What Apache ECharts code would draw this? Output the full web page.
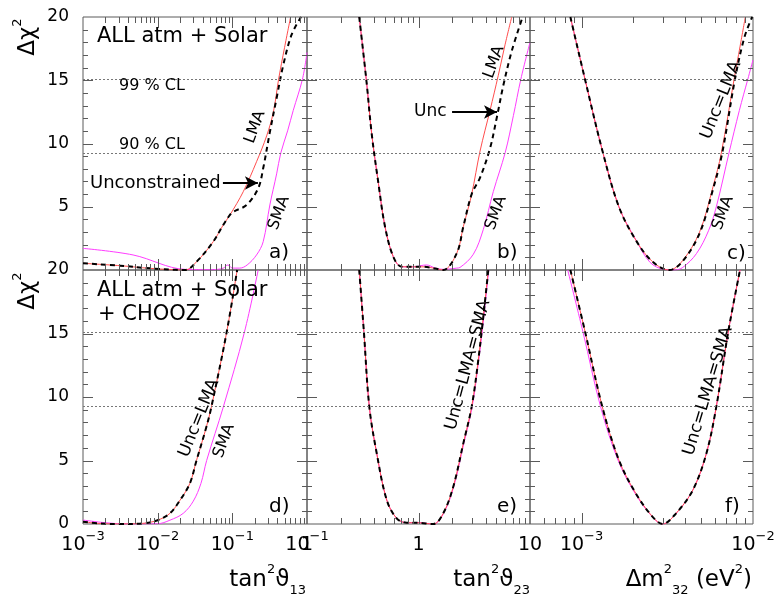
<!DOCTYPE html>
<html>
<head>
<meta charset="utf-8">
<title>Delta chi2 profiles</title>
<script src="https://cdn.jsdelivr.net/npm/echarts@6/dist/echarts.min.js"></script>
<style>
  html, body { margin: 0; background: #fff; }
  #chart { width: 781px; height: 602px; }
</style>
</head>
<body>
<div id="chart"></div>
<script>
// confidence levels (dotted lines)
const CL_LEVELS = [9.24, 15.09];

// tick labels
const X_LABELS_13 = [0.001, 0.01, 0.1, 1];
const X_LABELS_23 = [0.1, 1, 10];
const X_LABELS_DM = [0.001, 0.01];
const Y_LABELS = [0, 5, 10, 15, 20];

// a) tan^2 theta13, ALL atm + Solar
const aLma = [[0.001,0.53],[0.00316,0.34],[0.00794,0.13],[0.0232,0],[0.0333,0.66],[0.0555,2.24],[0.0755,3.56],[0.0929,4.35],[0.14,6.19],[0.211,8.56],[0.288,10.6],[0.355,12.5],[0.417,15.09],[0.501,17.6],[0.603,20]];
const aSma = [[0.001,1.71],[0.00468,1.19],[0.0232,0.05],[0.0501,0.02],[0.0631,0.05],[0.0759,0.15],[0.0871,0.4],[0.1,0.15],[0.126,0.15],[0.158,0.4],[0.211,1.19],[0.259,2.24],[0.318,5.14],[0.392,7.6],[0.445,9.24],[0.55,11.0],[0.653,12.6],[0.87,15.09],[1,17.2]];
const aUnc = [[0.001,0.53],[0.00316,0.34],[0.00794,0.13],[0.0232,0],[0.0333,0.66],[0.0555,2.24],[0.0755,3.56],[0.0929,4.35],[0.103,4.6],[0.155,5.14],[0.222,6.46],[0.259,8.04],[0.318,10.9],[0.392,13.6],[0.481,16.2],[0.622,18.6],[0.832,20]];
const aArrow = [[0.0748,6.88],[0.22,6.88]];

// b) tan^2 theta23, ALL atm + Solar
const bLma = [[0.294,20],[0.343,14.76],[0.38,10.8],[0.437,6.85],[0.501,3.42],[0.594,1.05],[0.706,0.26],[0.891,0.25],[1.122,0.25],[1.413,0.12],[1.667,0],[2.203,1.32],[2.523,3.42],[3.0,6.0],[3.565,9.4],[4.375,12.6],[5.2,15.4],[5.97,17.8],[6.855,20]];
const bSma = [[0.294,20],[0.343,14.76],[0.38,10.8],[0.437,6.85],[0.501,3.42],[0.594,1.05],[0.706,0.26],[0.891,0.25],[1.183,0.4],[1.413,0.15],[1.667,0.05],[2.203,0.15],[2.355,0.2],[3.105,1.25],[3.811,3.2],[4.688,6.2],[6.0,9.3],[7.096,12.2],[8.28,15.09],[10,18.0]];
const bUnc = [[0.294,20],[0.343,14.76],[0.38,10.8],[0.437,6.85],[0.501,3.42],[0.594,1.05],[0.706,0.26],[0.891,0.25],[1.122,0.25],[1.413,0.12],[1.667,0],[2.203,1.32],[2.523,3.42],[3.0,6.0],[3.565,7.3],[4.375,9.6],[5.023,12.0],[5.768,14.6],[6.855,17.3],[8.433,19.8]];
const bArrow = [[2.0,12.49],[5.06,12.49]];

// c) dm^2_32 (eV^2), ALL atm + Solar
const cLma = [[0.00086,20],[0.00105,15.0],[0.00133,9.3],[0.00165,5.0],[0.00207,2.37],[0.00259,0.66],[0.00325,0],[0.00389,0.75],[0.00488,3.0],[0.00585,6.6],[0.00653,9.24],[0.00776,15.09],[0.00841,17.7],[0.00902,20]];
const cSma = [[0.00086,20],[0.00105,15.0],[0.00133,9.3],[0.00165,5.0],[0.00207,2.4],[0.00251,0.6],[0.00302,0.05],[0.00347,0],[0.00389,0.2],[0.00468,1.3],[0.0055,3.1],[0.00611,5.0],[0.00724,9.24],[0.00832,12.6],[0.00933,15.09],[0.01,16.6]];
const cUnc = [[0.00086,20],[0.00105,15.0],[0.00133,9.3],[0.00165,5.0],[0.00207,2.37],[0.00259,0.66],[0.00325,0],[0.00389,0.7],[0.00488,2.9],[0.00585,6.4],[0.00661,9.24],[0.00785,15.09],[0.00891,18.4],[0.00989,20]];

// d) tan^2 theta13, ALL atm + Solar + CHOOZ
const dLma = [[0.001,0.18],[0.00158,0.05],[0.00316,0],[0.00631,0.05],[0.01,0.3],[0.0146,0.84],[0.02,1.89],[0.027,3.2],[0.0331,5.0],[0.0447,7.6],[0.0525,9.24],[0.0839,15.09],[0.116,20]];
const dSma = [[0.001,0.31],[0.002,0.1],[0.004,0],[0.01,0.02],[0.0146,0.3],[0.022,0.84],[0.03,1.8],[0.038,3.2],[0.0453,5.0],[0.0759,9.24],[0.145,15.09],[0.222,20]];
const dUnc = [[0.001,0.18],[0.00158,0.05],[0.00316,0],[0.00631,0.05],[0.01,0.3],[0.0146,0.84],[0.02,1.89],[0.027,3.2],[0.0331,5.0],[0.0447,7.6],[0.0525,9.24],[0.0839,15.09],[0.116,20]];

// e) tan^2 theta23, ALL atm + Solar + CHOOZ
const eLma = [[0.294,20],[0.324,15.09],[0.362,9.24],[0.422,5.57],[0.519,1.89],[0.637,0.45],[0.783,0.1],[0.964,0.1],[1.358,0],[1.667,0.84],[2.051,2.94],[2.523,6.35],[3.0,9.24],[3.436,12.9],[3.811,16.3],[4.227,20]];
const eSma = [[0.294,20],[0.324,15.09],[0.362,9.24],[0.422,5.57],[0.519,1.89],[0.637,0.45],[0.783,0.1],[0.964,0.12],[1.358,0],[1.68,0.84],[2.07,2.94],[2.55,6.35],[3.03,9.24],[3.47,12.9],[3.85,16.3],[4.27,20]];
const eUnc = [[0.294,20],[0.324,15.09],[0.362,9.24],[0.422,5.57],[0.519,1.89],[0.637,0.45],[0.783,0.1],[0.964,0.1],[1.358,0],[1.667,0.84],[2.051,2.94],[2.523,6.35],[3.0,9.24],[3.436,12.9],[3.811,16.3],[4.227,20]];

// f) dm^2_32 (eV^2), ALL atm + Solar + CHOOZ
const fLma = [[0.00086,20],[0.00105,15.09],[0.00132,9.24],[0.00165,5.04],[0.00207,2.42],[0.00259,0.58],[0.00297,0],[0.00356,0.84],[0.00446,2.68],[0.00535,5.57],[0.00611,9.24],[0.00716,15.09],[0.0084,20]];
const fSma = [[0.00083,20],[0.00102,15.09],[0.00129,9.24],[0.00163,5.04],[0.00205,2.42],[0.00258,0.58],[0.00297,0],[0.00356,0.84],[0.00446,2.68],[0.00535,5.57],[0.00611,9.24],[0.00716,15.09],[0.0084,20]];
const fUnc = [[0.00086,20],[0.00105,15.09],[0.00132,9.24],[0.00165,5.04],[0.00207,2.42],[0.00259,0.58],[0.00297,0],[0.00356,0.84],[0.00446,2.68],[0.00535,5.57],[0.00611,9.24],[0.00716,15.09],[0.0084,20]];

const FONT = 'DejaVu Sans';
const FRAME = '#5a5a5a';
const LMA_COLOR = '#ff4d4d';
const SMA_COLOR = '#ff3cff';

const COLS = [
  { left: 83, width: 224, min: 0.001, max: 1, labels: X_LABELS_13 },
  { left: 307, width: 223, min: 0.1, max: 10, labels: X_LABELS_23 },
  { left: 530, width: 223, min: 0.0005, max: 0.01, labels: X_LABELS_DM }
];
const ROWS = [{ top: 17, height: 253 }, { top: 270, height: 254 }];

const PANELS = [
  { row: 0, col: 0, lma: aLma, sma: aSma, unc: aUnc, arrow: aArrow },
  { row: 0, col: 1, lma: bLma, sma: bSma, unc: bUnc, arrow: bArrow },
  { row: 0, col: 2, lma: cLma, sma: cSma, unc: cUnc },
  { row: 1, col: 0, lma: dLma, sma: dSma, unc: dUnc },
  { row: 1, col: 1, lma: eLma, sma: eSma, unc: eUnc },
  { row: 1, col: 2, lma: fLma, sma: fSma, unc: fUnc }
];

function decadeTicks(min, max, mults) {
  const out = [];
  for (let d = Math.floor(Math.log10(min)) - 1; d <= Math.ceil(Math.log10(max)); d++) {
    mults.forEach(k => {
      const v = +(k * Math.pow(10, d)).toPrecision(6);
      if (v >= min * 0.999 && v <= max * 1.001) out.push(v);
    });
  }
  return out;
}

function powLabel(v) {
  const e = Math.round(Math.log10(v));
  if (e === 0) return '{b|1}';
  if (e === 1) return '{b|10}';
  return '{b|10}{s|' + (e < 0 ? '\u2212' + (-e) : e) + '}';
}

const grids = [], xAxes = [], yAxes = [], series = [];

PANELS.forEach((p, i) => {
  const col = COLS[p.col];
  const row = ROWS[p.row];
  grids.push({
    left: col.left, top: row.top, width: col.width, height: row.height,
    show: true, borderColor: FRAME, borderWidth: 1
  });
  xAxes.push({
    type: 'log', logBase: 10, gridIndex: i, min: col.min, max: col.max, position: 'bottom',
    axisLine: { show: false, onZero: false }, splitLine: { show: false },
    axisTick: { show: false }, minorTick: { show: false },
    axisLabel: p.row === 1 ? {
      show: true, customValues: col.labels, formatter: powLabel, margin: 6, color: '#000',
      rich: {
        b: { fontFamily: FONT, fontSize: 19, lineHeight: 30, color: '#000' },
        s: { fontFamily: FONT, fontSize: 13, lineHeight: 12, verticalAlign: 'top', color: '#000' }
      }
    } : { show: false }
  });
  yAxes.push({
    type: 'value', gridIndex: i, position: 'left', min: 0, max: 20, interval: 5,
    axisLine: { show: false, onZero: false }, splitLine: { show: false },
    axisTick: { show: false }, minorTick: { show: false },
    axisLabel: p.col === 0 ? {
      show: true, customValues: Y_LABELS, margin: 14, color: '#000',
      fontFamily: FONT, fontSize: 17,
      formatter: v => (p.row === 0 && v === 0) ? '' : String(v)
    } : { show: false }
  });

  const common = {
    type: 'line', xAxisIndex: i, yAxisIndex: i, showSymbol: false, symbol: 'none',
    smooth: 0.35, silent: true
  };
  series.push(Object.assign({}, common, {
    name: 'SMA', data: p.sma, z: 2, lineStyle: { color: SMA_COLOR, width: 1 }
  }));
  series.push(Object.assign({}, common, {
    name: 'LMA', data: p.lma, z: 3, lineStyle: { color: LMA_COLOR, width: 1 },
    markLine: {
      silent: true, symbol: ['none', 'none'], label: { show: false },
      lineStyle: { color: '#777', width: 1, type: [2, 2] },
      data: CL_LEVELS.map(v => ({ yAxis: v }))
    }
  }));
  const unc = Object.assign({}, common, {
    name: 'Unconstrained', data: p.unc, z: 4,
    lineStyle: { color: '#000', width: 2, type: [5, 4] }
  });
  if (p.arrow) {
    unc.markLine = {
      silent: true, symbol: ['none', 'arrow'], symbolSize: [10, 13], label: { show: false },
      lineStyle: { color: '#000', width: 1.8, type: 'solid' },
      data: [[{ coord: p.arrow[0] }, { coord: p.arrow[1] }]]
    };
  }
  series.push(unc);
});

function txt(x, y, text, size, opts) {
  opts = opts || {};
  return {
    type: 'text', x: x, y: y, rotation: (opts.rot || 0) * Math.PI / 180, z: 10, silent: true,
    style: {
      text: text, fill: '#000', fontFamily: FONT, fontSize: size,
      align: opts.align || 'left', verticalAlign: 'middle', rich: opts.rich
    }
  };
}

const titleRich = {
  t: { fontFamily: FONT, fontSize: 23, lineHeight: 34, color: '#000' },
  p: { fontFamily: FONT, fontSize: 13, lineHeight: 14, verticalAlign: 'top', color: '#000' },
  q: { fontFamily: FONT, fontSize: 13, lineHeight: 14, verticalAlign: 'bottom', color: '#000' }
};

const texts = [
  // y titles
  txt(28, 37, '{t|\u0394\u03c7}{p|2}', 23, { rot: 90, align: 'center', rich: titleRich }),
  txt(28, 291, '{t|\u0394\u03c7}{p|2}', 23, { rot: 90, align: 'center', rich: titleRich }),
  // x titles
  txt(306, 580, '{t|tan}{p|2}{t|\u03d1}{q|13}', 23, { align: 'right', rich: titleRich }),
  txt(530, 580, '{t|tan}{p|2}{t|\u03d1}{q|23}', 23, { align: 'right', rich: titleRich }),
  txt(752, 580, '{t|\u0394m}{p|2}{q|32}{t| (eV}{p|2}{t|)}', 23, { align: 'right', rich: titleRich }),
  // panel a
  txt(97, 37, 'ALL atm + Solar', 21),
  txt(119, 86, '99 % CL', 16),
  txt(119, 145, '90 % CL', 16),
  txt(90, 183, 'Unconstrained', 18),
  txt(255, 127, 'LMA', 16, { rot: 70, align: 'center' }),
  txt(279, 213, 'SMA', 16, { rot: 70, align: 'center' }),
  txt(269, 253, 'a)', 20),
  // panel b
  txt(414, 112, 'Unc', 17),
  txt(494, 62, 'LMA', 16, { rot: 70, align: 'center' }),
  txt(496, 213, 'SMA', 16, { rot: 70, align: 'center' }),
  txt(497, 253, 'b)', 20),
  // panel c
  txt(721, 100, 'Unc=LMA', 17, { rot: 68, align: 'center' }),
  txt(723, 213, 'SMA', 16, { rot: 70, align: 'center' }),
  txt(727, 254, 'c)', 20),
  // panel d
  txt(97, 291, 'ALL atm + Solar', 21),
  txt(98, 315, '+ CHOOZ', 21),
  txt(199, 418, 'Unc=LMA', 17, { rot: 68, align: 'center' }),
  txt(224, 441, 'SMA', 16, { rot: 70, align: 'center' }),
  txt(269, 507, 'd)', 20),
  // panel e
  txt(468, 365, 'Unc=LMA=SMA', 17, { rot: 75, align: 'center' }),
  txt(497, 507, 'e)', 20),
  // panel f
  txt(708, 391, 'Unc=LMA=SMA', 17, { rot: 73, align: 'center' }),
  txt(725, 507, 'f)', 20)
];

const chart = echarts.init(document.getElementById('chart'));
chart.setOption({
  animation: false,
  backgroundColor: '#fff',
  grid: grids,
  xAxis: xAxes,
  yAxis: yAxes,
  series: series
});

// inward ticks on all four sides, positioned through each grid's own scales
function tickMarks() {
  const els = [];
  const seg = (x1, y1, x2, y2) => ({
    type: 'line', z: 5, silent: true,
    shape: { x1: x1, y1: y1, x2: x2, y2: y2 },
    style: { stroke: FRAME, lineWidth: 1 }
  });
  PANELS.forEach((p, i) => {
    const col = COLS[p.col], row = ROWS[p.row];
    const top = row.top, bottom = row.top + row.height;
    const left = col.left, right = col.left + col.width;
    const xt = decadeTicks(col.min, col.max, [1]).map(v => [v, 11])
      .concat(decadeTicks(col.min, col.max, [2, 3, 4, 5, 6, 7, 8, 9]).map(v => [v, 6]));
    xt.forEach(t => {
      const px = Math.round(chart.convertToPixel({ gridIndex: i }, [t[0], 0])[0]) + 0.5;
      if (px <= left + 1 || px >= right - 1) return;
      els.push(seg(px, bottom, px, bottom - t[1]));
      els.push(seg(px, top, px, top + t[1]));
    });
    for (let v = 1; v < 20; v++) {
      const len = v % 5 === 0 ? 10 : 5;
      const py = Math.round(chart.convertToPixel({ gridIndex: i }, [col.min, v])[1]) + 0.5;
      els.push(seg(left, py, left + len, py));
      els.push(seg(right, py, right - len, py));
    }
  });
  return els;
}

chart.setOption({ graphic: { elements: texts.concat(tickMarks()) } });
</script>
</body>
</html>
